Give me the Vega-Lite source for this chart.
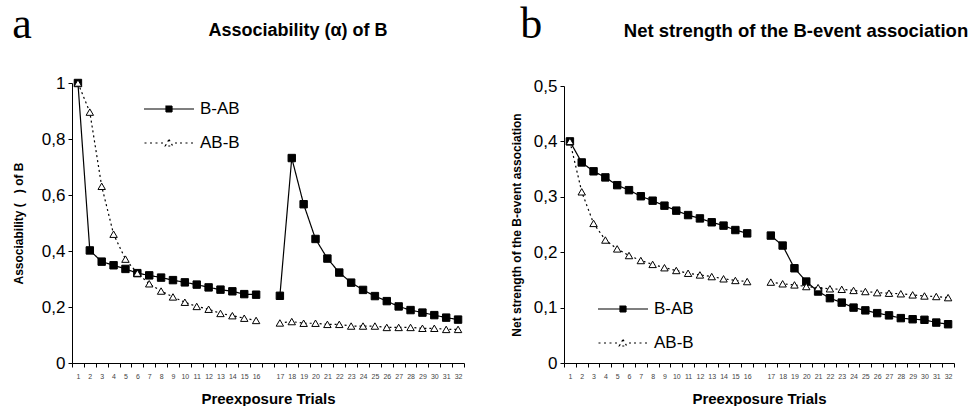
{
  "$schema": "https://vega.github.io/schema/vega-lite/v6.json",
  "padding": {"left": 12, "top": 2, "right": 5, "bottom": 0},
  "autosize": {"type": "pad"},
  "background": "white",
  "spacing": 45,
  "config": {
    "view": {"stroke": null},
    "font": "Liberation Sans",
    "axis": {
      "domainColor": "black", "tickColor": "black", "labelColor": "black", "titleColor": "black",
      "grid": false, "domainWidth": 1, "tickWidth": 1
    }
  },
  "resolve": {
    "scale": {"strokeDash": "independent", "shape": "independent", "fill": "independent"},
    "legend": {"strokeDash": "independent", "shape": "independent", "fill": "independent"}
  },
  "datasets": {
    "a": [
      {"t":"1","s":"B-AB","v":1.0,"p":1},{"t":"2","s":"B-AB","v":0.402,"p":1},{"t":"3","s":"B-AB","v":0.362,"p":1},{"t":"4","s":"B-AB","v":0.349,"p":1},
      {"t":"5","s":"B-AB","v":0.336,"p":1},{"t":"6","s":"B-AB","v":0.321,"p":1},{"t":"7","s":"B-AB","v":0.313,"p":1},{"t":"8","s":"B-AB","v":0.305,"p":1},
      {"t":"9","s":"B-AB","v":0.296,"p":1},{"t":"10","s":"B-AB","v":0.288,"p":1},{"t":"11","s":"B-AB","v":0.280,"p":1},{"t":"12","s":"B-AB","v":0.270,"p":1},
      {"t":"13","s":"B-AB","v":0.262,"p":1},{"t":"14","s":"B-AB","v":0.256,"p":1},{"t":"15","s":"B-AB","v":0.246,"p":1},{"t":"16","s":"B-AB","v":0.244,"p":1},
      {"t":"17","s":"B-AB","v":0.240,"p":2},{"t":"18","s":"B-AB","v":0.732,"p":2},{"t":"19","s":"B-AB","v":0.567,"p":2},{"t":"20","s":"B-AB","v":0.443,"p":2},
      {"t":"21","s":"B-AB","v":0.373,"p":2},{"t":"22","s":"B-AB","v":0.323,"p":2},{"t":"23","s":"B-AB","v":0.287,"p":2},{"t":"24","s":"B-AB","v":0.261,"p":2},
      {"t":"25","s":"B-AB","v":0.239,"p":2},{"t":"26","s":"B-AB","v":0.221,"p":2},{"t":"27","s":"B-AB","v":0.202,"p":2},{"t":"28","s":"B-AB","v":0.189,"p":2},
      {"t":"29","s":"B-AB","v":0.180,"p":2},{"t":"30","s":"B-AB","v":0.171,"p":2},{"t":"31","s":"B-AB","v":0.162,"p":2},{"t":"32","s":"B-AB","v":0.155,"p":2},
      {"t":"1","s":"AB-B","v":1.0,"p":1},{"t":"2","s":"AB-B","v":0.896,"p":1},{"t":"3","s":"AB-B","v":0.631,"p":1},{"t":"4","s":"AB-B","v":0.460,"p":1},
      {"t":"5","s":"AB-B","v":0.371,"p":1},{"t":"6","s":"AB-B","v":0.321,"p":1},{"t":"7","s":"AB-B","v":0.283,"p":1},{"t":"8","s":"AB-B","v":0.257,"p":1},
      {"t":"9","s":"AB-B","v":0.236,"p":1},{"t":"10","s":"AB-B","v":0.217,"p":1},{"t":"11","s":"AB-B","v":0.202,"p":1},{"t":"12","s":"AB-B","v":0.192,"p":1},
      {"t":"13","s":"AB-B","v":0.177,"p":1},{"t":"14","s":"AB-B","v":0.169,"p":1},{"t":"15","s":"AB-B","v":0.160,"p":1},{"t":"16","s":"AB-B","v":0.152,"p":1},
      {"t":"17","s":"AB-B","v":0.143,"p":2},{"t":"18","s":"AB-B","v":0.148,"p":2},{"t":"19","s":"AB-B","v":0.142,"p":2},{"t":"20","s":"AB-B","v":0.142,"p":2},
      {"t":"21","s":"AB-B","v":0.138,"p":2},{"t":"22","s":"AB-B","v":0.138,"p":2},{"t":"23","s":"AB-B","v":0.132,"p":2},{"t":"24","s":"AB-B","v":0.132,"p":2},
      {"t":"25","s":"AB-B","v":0.132,"p":2},{"t":"26","s":"AB-B","v":0.127,"p":2},{"t":"27","s":"AB-B","v":0.127,"p":2},{"t":"28","s":"AB-B","v":0.127,"p":2},
      {"t":"29","s":"AB-B","v":0.124,"p":2},{"t":"30","s":"AB-B","v":0.124,"p":2},{"t":"31","s":"AB-B","v":0.120,"p":2},{"t":"32","s":"AB-B","v":0.120,"p":2}
    ],
    "b": [
      {"t":"1","s":"B-AB","v":0.400,"p":1},{"t":"2","s":"B-AB","v":0.362,"p":1},{"t":"3","s":"B-AB","v":0.346,"p":1},{"t":"4","s":"B-AB","v":0.335,"p":1},
      {"t":"5","s":"B-AB","v":0.321,"p":1},{"t":"6","s":"B-AB","v":0.312,"p":1},{"t":"7","s":"B-AB","v":0.301,"p":1},{"t":"8","s":"B-AB","v":0.293,"p":1},
      {"t":"9","s":"B-AB","v":0.284,"p":1},{"t":"10","s":"B-AB","v":0.275,"p":1},{"t":"11","s":"B-AB","v":0.267,"p":1},{"t":"12","s":"B-AB","v":0.261,"p":1},
      {"t":"13","s":"B-AB","v":0.254,"p":1},{"t":"14","s":"B-AB","v":0.248,"p":1},{"t":"15","s":"B-AB","v":0.240,"p":1},{"t":"16","s":"B-AB","v":0.234,"p":1},
      {"t":"17","s":"B-AB","v":0.230,"p":2},{"t":"18","s":"B-AB","v":0.212,"p":2},{"t":"19","s":"B-AB","v":0.171,"p":2},{"t":"20","s":"B-AB","v":0.147,"p":2},
      {"t":"21","s":"B-AB","v":0.129,"p":2},{"t":"22","s":"B-AB","v":0.117,"p":2},{"t":"23","s":"B-AB","v":0.109,"p":2},{"t":"24","s":"B-AB","v":0.100,"p":2},
      {"t":"25","s":"B-AB","v":0.095,"p":2},{"t":"26","s":"B-AB","v":0.090,"p":2},{"t":"27","s":"B-AB","v":0.086,"p":2},{"t":"28","s":"B-AB","v":0.081,"p":2},
      {"t":"29","s":"B-AB","v":0.079,"p":2},{"t":"30","s":"B-AB","v":0.078,"p":2},{"t":"31","s":"B-AB","v":0.073,"p":2},{"t":"32","s":"B-AB","v":0.070,"p":2},
      {"t":"1","s":"AB-B","v":0.400,"p":1},{"t":"2","s":"AB-B","v":0.309,"p":1},{"t":"3","s":"AB-B","v":0.252,"p":1},{"t":"4","s":"AB-B","v":0.222,"p":1},
      {"t":"5","s":"AB-B","v":0.206,"p":1},{"t":"6","s":"AB-B","v":0.194,"p":1},{"t":"7","s":"AB-B","v":0.185,"p":1},{"t":"8","s":"AB-B","v":0.178,"p":1},
      {"t":"9","s":"AB-B","v":0.172,"p":1},{"t":"10","s":"AB-B","v":0.167,"p":1},{"t":"11","s":"AB-B","v":0.162,"p":1},{"t":"12","s":"AB-B","v":0.159,"p":1},
      {"t":"13","s":"AB-B","v":0.156,"p":1},{"t":"14","s":"AB-B","v":0.152,"p":1},{"t":"15","s":"AB-B","v":0.149,"p":1},{"t":"16","s":"AB-B","v":0.147,"p":1},
      {"t":"17","s":"AB-B","v":0.146,"p":2},{"t":"18","s":"AB-B","v":0.143,"p":2},{"t":"19","s":"AB-B","v":0.141,"p":2},{"t":"20","s":"AB-B","v":0.138,"p":2},
      {"t":"21","s":"AB-B","v":0.136,"p":2},{"t":"22","s":"AB-B","v":0.134,"p":2},{"t":"23","s":"AB-B","v":0.133,"p":2},{"t":"24","s":"AB-B","v":0.131,"p":2},
      {"t":"25","s":"AB-B","v":0.129,"p":2},{"t":"26","s":"AB-B","v":0.127,"p":2},{"t":"27","s":"AB-B","v":0.126,"p":2},{"t":"28","s":"AB-B","v":0.125,"p":2},
      {"t":"29","s":"AB-B","v":0.123,"p":2},{"t":"30","s":"AB-B","v":0.121,"p":2},{"t":"31","s":"AB-B","v":0.120,"p":2},{"t":"32","s":"AB-B","v":0.118,"p":2}
    ]
  },
  "hconcat": [
    {
      "title": {"text": "a", "font": "Liberation Serif", "fontSize": 44, "fontWeight": "normal", "anchor": "start", "frame": "bounds", "offset": -25, "color": "black"},
      "resolve": {
        "scale": {"strokeDash": "independent", "shape": "independent", "fill": "independent"},
        "legend": {"strokeDash": "independent", "shape": "independent", "fill": "independent"}
      },
      "vconcat": [
        {
          "title": {"text": "Associability (α) of B", "fontSize": 18, "fontWeight": "bold", "anchor": "middle", "dx": 30, "offset": 34, "color": "black"},
          "width": 392,
          "height": 280,
          "data": {"name": "a"},
          "encoding": {
            "x": {
              "field": "t", "type": "ordinal",
              "scale": {"type": "band", "padding": 0, "domain": ["1","2","3","4","5","6","7","8","9","10","11","12","13","14","15","16"," ","17","18","19","20","21","22","23","24","25","26","27","28","29","30","31","32"]},
              "axis": {"title": "Preexposure Trials", "titleFontSize": 15, "titleFontWeight": "bold", "titlePadding": 12, "labelAngle": 0, "labelFontSize": 7, "labelColor": "#444", "labelPadding": 5, "labelOverlap": false, "tickBand": "extent", "tickSize": 4}
            },
            "y": {
              "field": "v", "type": "quantitative",
              "scale": {"domain": [0, 1]},
              "axis": {"title": "Associability (\u00a0\u00a0\u00a0) of B", "titleFontSize": 12, "titleFontWeight": "bold", "titlePadding": 16, "values": [0, 0.2, 0.4, 0.6, 0.8, 1], "labelExpr": "replace(format(datum.value, '.1~f'), '.', ',')", "labelFontSize": 17, "labelPadding": 3, "tickSize": 4}
            }
          },
          "layer": [
            {
              "mark": {"type": "line", "color": "black", "strokeWidth": 1.2},
              "encoding": {
                "detail": {"field": "p"},
                "strokeDash": {
                  "field": "s", "type": "nominal", "sort": "descending",
                  "scale": {"range": [[1, 0], [2, 3]]},
                  "legend": {"orient": "none", "legendX": 71, "legendY": 0, "title": null, "padding": 0, "symbolType": "stroke", "symbolSize": 2500, "symbolStrokeWidth": 1.2, "symbolStrokeColor": "black", "labelFontSize": 17, "labelOffset": 5, "labelColor": "black", "rowPadding": -22,
                    "encode": {"symbols": {"update": {
                      "shape": {"signal": "datum.value === 'B-AB' ? 'M-1,0H1M-0.12,-0.12H0.12V0.12H-0.12Z' : 'M-0.98,0H-0.88M-0.76,0H-0.66M-0.54,0H-0.44M-0.32,0H-0.24M0.24,0H0.32M0.44,0H0.54M0.66,0H0.76M0.88,0H0.98M0,-0.14L0.15,0.12L-0.15,0.12Z'"},
                      "fill": {"signal": "datum.value === 'B-AB' ? 'black' : 'white'"},
                      "stroke": {"value": "black"},
                      "strokeDash": {"value": [100, 0]},
                      "strokeWidth": {"value": 1.2},
                      "opacity": {"value": 1}
                    }}}}
                }
              }
            },
            {
              "mark": {"type": "point", "filled": true, "stroke": "black", "strokeWidth": 1, "opacity": 1, "size": 55},
              "encoding": {
                "shape": {
                  "field": "s", "type": "nominal",
                  "scale": {"domain": ["B-AB", "AB-B"], "range": ["square", "triangle-up"]},
                  "legend": null
                },
                "fill": {
                  "field": "s", "type": "nominal",
                  "scale": {"domain": ["B-AB", "AB-B"], "range": ["black", "white"]},
                  "legend": null
                }
              }
            }
          ]
        }
      ]
    },
    {
      "title": {"text": "b", "font": "Liberation Serif", "fontSize": 44, "fontWeight": "normal", "anchor": "start", "frame": "bounds", "offset": -25, "dx": 10, "color": "black"},
      "resolve": {
        "scale": {"strokeDash": "independent", "shape": "independent", "fill": "independent"},
        "legend": {"strokeDash": "independent", "shape": "independent", "fill": "independent"}
      },
      "vconcat": [
        {
          "title": {"text": "Net strength of the B-event association", "fontSize": 18.5, "fontWeight": "bold", "anchor": "middle", "dx": 37, "offset": 37, "color": "black"},
          "width": 390,
          "height": 280,
          "data": {"name": "b"},
          "encoding": {
            "x": {
              "field": "t", "type": "ordinal",
              "scale": {"type": "band", "padding": 0, "domain": ["1","2","3","4","5","6","7","8","9","10","11","12","13","14","15","16"," ","17","18","19","20","21","22","23","24","25","26","27","28","29","30","31","32"]},
              "axis": {"title": "Preexposure Trials", "titleFontSize": 15, "titleFontWeight": "bold", "titlePadding": 12, "labelAngle": 0, "labelFontSize": 7, "labelColor": "#444", "labelPadding": 5, "labelOverlap": false, "tickBand": "extent", "tickSize": 4}
            },
            "y": {
              "field": "v", "type": "quantitative",
              "scale": {"domain": [0, 0.5], "range": [280, 3]},
              "axis": {"title": "Net strength of the B-event association", "titleFontSize": 12, "titleFontWeight": "bold", "titlePadding": 10, "values": [0, 0.1, 0.2, 0.3, 0.4, 0.5], "labelExpr": "replace(format(datum.value, '.1~f'), '.', ',')", "labelFontSize": 17, "labelPadding": 3, "tickSize": 4}
            }
          },
          "layer": [
            {
              "mark": {"type": "line", "color": "black", "strokeWidth": 1.2},
              "encoding": {
                "detail": {"field": "p"},
                "strokeDash": {
                  "field": "s", "type": "nominal", "sort": "descending",
                  "scale": {"range": [[1, 0], [2, 3]]},
                  "legend": {"orient": "none", "legendX": 33, "legendY": 200, "title": null, "padding": 0, "symbolType": "stroke", "symbolSize": 2500, "symbolStrokeWidth": 1.2, "symbolStrokeColor": "black", "labelFontSize": 17, "labelOffset": 5, "labelColor": "black", "rowPadding": -29,
                    "encode": {"symbols": {"update": {
                      "shape": {"signal": "datum.value === 'B-AB' ? 'M-1,0H1M-0.12,-0.12H0.12V0.12H-0.12Z' : 'M-0.98,0H-0.88M-0.76,0H-0.66M-0.54,0H-0.44M-0.32,0H-0.24M0.24,0H0.32M0.44,0H0.54M0.66,0H0.76M0.88,0H0.98M0,-0.14L0.15,0.12L-0.15,0.12Z'"},
                      "fill": {"signal": "datum.value === 'B-AB' ? 'black' : 'white'"},
                      "stroke": {"value": "black"},
                      "strokeDash": {"value": [100, 0]},
                      "strokeWidth": {"value": 1.2},
                      "opacity": {"value": 1}
                    }}}}
                }
              }
            },
            {
              "mark": {"type": "point", "filled": true, "stroke": "black", "strokeWidth": 1, "opacity": 1, "size": 55},
              "encoding": {
                "shape": {
                  "field": "s", "type": "nominal",
                  "scale": {"domain": ["B-AB", "AB-B"], "range": ["square", "triangle-up"]},
                  "legend": null
                },
                "fill": {
                  "field": "s", "type": "nominal",
                  "scale": {"domain": ["B-AB", "AB-B"], "range": ["black", "white"]},
                  "legend": null
                }
              }
            }
          ]
        }
      ]
    }
  ]
}
